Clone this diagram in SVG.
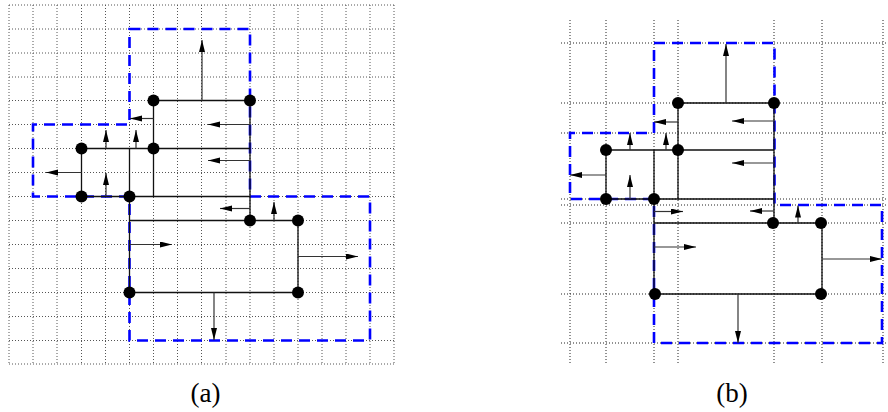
<svg xmlns="http://www.w3.org/2000/svg" width="888" height="412" viewBox="0 0 888 412">
<style>
.grid{fill:none;stroke:#555;stroke-width:1;stroke-dasharray:1 2}
.gridr{fill:none;stroke:#222;stroke-width:1;stroke-dasharray:1 2}
.region{fill:none;stroke:#0000ff;stroke-width:2.6;stroke-dasharray:11 7}
.edge{fill:none;stroke:#111;stroke-width:1.3}
.arrow{fill:none;stroke:#333;stroke-width:1.2;marker-end:url(#head)}
.node{fill:#000}
.label{font-family:"Liberation Serif","DejaVu Serif",serif;font-size:27px;fill:#000;text-anchor:middle}
</style>
<defs>
<marker id="head" markerUnits="userSpaceOnUse" markerWidth="12" markerHeight="7" refX="12" refY="3" orient="auto">
<path d="M0,0 L12,3 L0,6 Z" fill="#000"/>
</marker>
</defs>
<rect width="888" height="412" fill="#fff"/>

<!-- Grid (a) -->
<g id="grid-a" class="grid">
<path d="M9,5V364M33,5V364M57,5V364M81.5,5V364M105.5,5V364M129.5,5V364M153.5,5V364M177.5,5V364M201.5,5V364M226,5V364M250,5V364M274,5V364M298,5V364M322,5V364M346,5V364M370,5V364M394,5V364"/>
<path d="M9,5H394M9,29H394M9,53H394M9,77H394M9,100.5H394M9,124.5H394M9,148.5H394M9,172.5H394M9,196.5H394M9,220.5H394M9,244.5H394M9,268.5H394M9,292.5H394M9,316.5H394M9,340.5H394M9,364H394"/>
</g>

<!-- Grid (b) -->
<g id="grid-b" class="gridr">
<path d="M570,20V363M606,20V363M654,20V363M678,20V363M774,20V363M822,20V363M883,20V363"/>
<path d="M561,43H888M561,103H888M561,133H888M561,199H888M561,205H888M561,223H888M561,294H888M561,343H888"/>
</g>

<!-- Regions -->
<g id="regions">
<path id="region-a" class="region" d="M129.5,29H250V196.5H370V340.5H129.5V196.5H33V124.5H129.5Z"/>
<path id="region-b" class="region" d="M654,43H774.5V205H882V343H654V199H570V133H654Z"/>
</g>

<!-- Connectors -->
<g id="connectors">
<g id="edges-a" class="edge">
<path d="M153.5,100.5H250M81.5,148.5H250M81.5,196.5H250M129.5,220.5H298M129.5,292.5H298"/>
<path d="M81.5,148.5V196.5M129.5,148.5V292.5M153.5,100.5V196.5M250,100.5V220.5M298,220.5V292.5"/>
</g>
<g id="arrows-a">
<path class="arrow" d="M202,100.5V40"/>
<path class="arrow" d="M153.5,118.5H130"/>
<path class="arrow" d="M106,148.5V130"/>
<path class="arrow" d="M136,148.5V130"/>
<path class="arrow" d="M106,196.5V173"/>
<path class="arrow" d="M81.5,172.5H46"/>
<path class="arrow" d="M250,124.5H208"/>
<path class="arrow" d="M250,160.5H208"/>
<path class="arrow" d="M129.5,244.5H172"/>
<path class="arrow" d="M250,208.5H220"/>
<path class="arrow" d="M274,220.5V202"/>
<path class="arrow" d="M298,256.5H358"/>
<path class="arrow" d="M214,292.5V340"/>
</g>
<g id="edges-b" class="edge">
<path d="M678,103H774M606,150H774M606,199H774M654,223H822M654,294H822"/>
<path d="M606,150V199M654,150V294M678,103V199M774,103V223M822,223V294"/>
</g>
<g id="arrows-b">
<path class="arrow" d="M726,103V44"/>
<path class="arrow" d="M678,122H654"/>
<path class="arrow" d="M630,150V133"/>
<path class="arrow" d="M666,150V133"/>
<path class="arrow" d="M630,199V175"/>
<path class="arrow" d="M606,175H570"/>
<path class="arrow" d="M654,211.5H683"/>
<path class="arrow" d="M774,121H732"/>
<path class="arrow" d="M774,163H732"/>
<path class="arrow" d="M774,211H750"/>
<path class="arrow" d="M798,223V205.5"/>
<path class="arrow" d="M654,247H696"/>
<path class="arrow" d="M822,259H882"/>
<path class="arrow" d="M738,294V343"/>
</g>
</g>

<!-- Nodes (a) -->
<g id="a-n1"><circle class="node" cx="153.5" cy="100.5" r="6"/></g>
<g id="a-n2"><circle class="node" cx="250" cy="100.5" r="6"/></g>
<g id="a-n3"><circle class="node" cx="81.5" cy="148.5" r="6"/></g>
<g id="a-n4"><circle class="node" cx="153.5" cy="148.5" r="6"/></g>
<g id="a-n5"><circle class="node" cx="81.5" cy="196.5" r="6"/></g>
<g id="a-n6"><circle class="node" cx="129.5" cy="196.5" r="6"/></g>
<g id="a-n7"><circle class="node" cx="250" cy="220.5" r="6"/></g>
<g id="a-n8"><circle class="node" cx="298" cy="220.5" r="6"/></g>
<g id="a-n9"><circle class="node" cx="129.5" cy="292.5" r="6"/></g>
<g id="a-n10"><circle class="node" cx="298" cy="292.5" r="6"/></g>

<!-- Nodes (b) -->
<g id="b-n1"><circle class="node" cx="678" cy="103" r="6"/></g>
<g id="b-n2"><circle class="node" cx="774" cy="103" r="6"/></g>
<g id="b-n3"><circle class="node" cx="606" cy="150" r="6"/></g>
<g id="b-n4"><circle class="node" cx="678" cy="150" r="6"/></g>
<g id="b-n5"><circle class="node" cx="606" cy="199" r="6"/></g>
<g id="b-n6"><circle class="node" cx="654" cy="199" r="6"/></g>
<g id="b-n7"><circle class="node" cx="773" cy="223" r="6"/></g>
<g id="b-n8"><circle class="node" cx="821" cy="223" r="6"/></g>
<g id="b-n9"><circle class="node" cx="655" cy="294" r="6"/></g>
<g id="b-n10"><circle class="node" cx="821" cy="294" r="6"/></g>

<!-- Labels -->
<g id="labels">
<text class="label" x="205.5" y="402">(a)</text>
<text class="label" x="732" y="402">(b)</text>
</g>
</svg>
